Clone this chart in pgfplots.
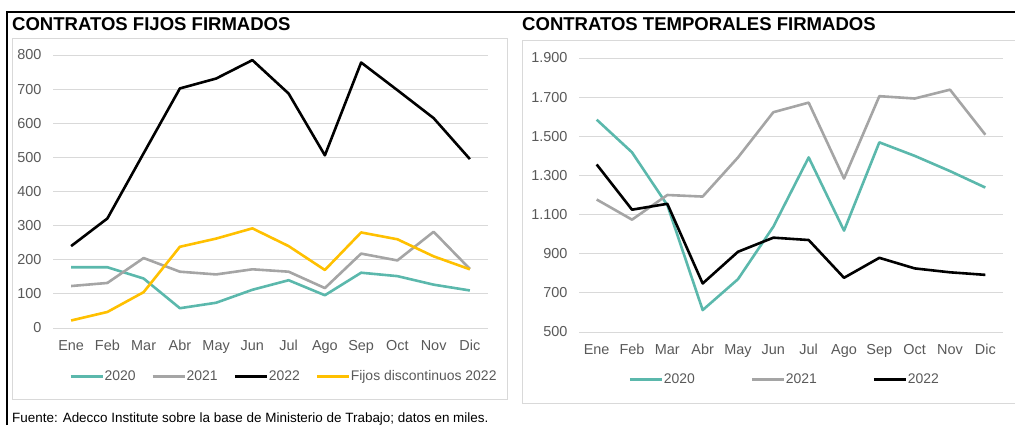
\documentclass[border=0pt]{standalone}
\usepackage{pgfplots}
\pgfplotsset{compat=1.18}
\usepackage{fontspec}
\setmainfont{Liberation Sans}
\definecolor{c20}{RGB}{91,184,172}
\definecolor{c21}{RGB}{165,165,165}
\definecolor{c22}{RGB}{0,0,0}
\definecolor{cfd}{RGB}{255,192,0}
\definecolor{tick}{RGB}{89,89,89}
\definecolor{gridc}{RGB}{217,217,217}
\definecolor{boxc}{RGB}{217,217,217}
\pgfplotsset{
  mystyle/.style={
    scale only axis,
    xmin=-0.5, xmax=11.5,
    xtick={0,...,11},
    xticklabels={Ene,Feb,Mar,Abr,May,Jun,Jul,Ago,Sep,Oct,Nov,Dic},
    axis line style={draw=none},
    major tick length=0pt,
    ymajorgrids, grid style={gridc, line width=0.8bp},
    ticklabel style={font=\fontsize{14.5}{16}\selectfont, text=tick},
    /pgf/number format/assume math mode=true,
    xticklabel style={yshift=-9bp},
    yticklabel style={xshift=-8bp},
    every axis plot/.append style={line width=2.6bp, line join=round, no markers},
    legend image code/.code={\path[draw, ##1, line width=3bp] (0bp,0bp) -- (32bp,0bp);},
    legend style={draw=none, fill=none, anchor=center, legend columns=4,
      font=\fontsize{14}{16}\selectfont, text=tick,
      nodes={inner xsep=0.5bp, inner ysep=1bp}},
  }
}
\begin{document}
\begin{tikzpicture}[x=1bp,y=1bp]
\path[use as bounding box] (0,0) rectangle (1015,425);
% outer frame
\draw[black, line width=1.6bp] (7,0) -- (7,413) -- (1015,413);
% chart boxes
\draw[boxc, line width=0.8bp] (12,26) rectangle (507,387);
\draw[boxc, line width=0.8bp] (1015,22) -- (522,22) -- (522,385) -- (1015,385);
% titles
\node[anchor=base west, inner sep=0, font=\bfseries\fontsize{18.6}{20}\selectfont] at (12,394) {CONTRATOS FIJOS FIRMADOS};
\node[anchor=base west, inner sep=0, font=\bfseries\fontsize{18.6}{20}\selectfont] at (522,394) {CONTRATOS TEMPORALES FIRMADOS};
% footnote
\node[anchor=base west, inner sep=0, font=\fontsize{13.5}{15}\selectfont] at (12,3) {Fuente: Adecco Institute sobre la base de Ministerio de Trabajo; datos en miles.};

\begin{axis}[mystyle,
  at={(53bp,97bp)}, anchor=south west, width=435bp, height=273bp,
  ymin=0, ymax=800, ytick={0,100,...,800},
  legend style={at={(axis description cs:0.529,-0.176)},
    /tikz/every even column/.append style={column sep=15bp}},
]
\addplot[c20] coordinates {(0,178)(1,178)(2,145)(3,58)(4,74)(5,112)(6,140)(7,96)(8,162)(9,152)(10,127)(11,110)};
\addlegendentry{2020}
\addplot[c21] coordinates {(0,123)(1,132)(2,205)(3,165)(4,157)(5,172)(6,165)(7,117)(8,218)(9,198)(10,282)(11,173)};
\addlegendentry{2021}
\addplot[c22] coordinates {(0,240)(1,321)(2,512)(3,702)(4,731)(5,785)(6,687)(7,506)(8,778)(9,697)(10,615)(11,495)};
\addlegendentry{2022}
\addplot[cfd] coordinates {(0,22)(1,47)(2,105)(3,238)(4,262)(5,292)(6,240)(7,170)(8,280)(9,260)(10,210)(11,172)};
\addlegendentry{Fijos discontinuos 2022}
\end{axis}

\begin{axis}[mystyle,
  at={(579bp,93bp)}, anchor=south west, width=424bp, height=274bp,
  ymin=500, ymax=1900, ytick={500,700,...,1900},
  yticklabels={500,700,900,1.100,1.300,1.500,1.700,1.900},
  legend style={at={(axis description cs:0.483,-0.172)},
    /tikz/every even column/.append style={column sep=55bp}},
]
\addplot[c20] coordinates {(0,1585)(1,1418)(2,1148)(3,612)(4,770)(5,1038)(6,1392)(7,1018)(8,1469)(9,1400)(10,1322)(11,1238)};
\addlegendentry{2020}
\addplot[c21] coordinates {(0,1177)(1,1074)(2,1200)(3,1192)(4,1392)(5,1623)(6,1672)(7,1284)(8,1705)(9,1693)(10,1738)(11,1508)};
\addlegendentry{2021}
\addplot[c22] coordinates {(0,1356)(1,1125)(2,1155)(3,748)(4,910)(5,982)(6,970)(7,777)(8,879)(9,825)(10,805)(11,792)};
\addlegendentry{2022}
\end{axis}
\end{tikzpicture}
\end{document}
